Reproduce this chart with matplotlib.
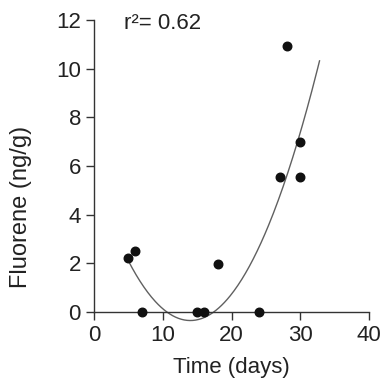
import numpy as np
import matplotlib
matplotlib.use("Agg")
import matplotlib.pyplot as plt

plt.rcParams['font.family'] = ['Liberation Sans', 'DejaVu Sans']

# data
days = [5, 6, 7, 15, 16, 18, 24, 27, 28, 30, 30]
fluorene = [2.23, 2.52, 0, 0, 0, 1.96, 0, 5.54, 10.95, 6.97, 5.54]
# quadratic fit y = a*x^2 + b*x + c, drawn from x=5 to x=32.8
fit_coef = [0.0302, -0.8456, 5.57]
fit_range = [5, 32.8]

fig = plt.figure(figsize=(3.84, 3.87), dpi=100)
ax = fig.add_axes([0.245, 0.156, 0.716, 0.792])

xf = np.linspace(fit_range[0], fit_range[1], 200)
ax.plot(xf, np.polyval(fit_coef, xf), color='#606060', lw=1.0)
ax.scatter(days, fluorene, s=38, color='#111111', zorder=3, clip_on=False)

ax.set_xlim(0, 40)
ax.set_ylim(-0.6, 12)
ax.set_xticks([0, 10, 20, 30, 40])
ax.set_yticks([0, 2, 4, 6, 8, 10, 12])
ax.spines['top'].set_visible(False)
ax.spines['right'].set_visible(False)
ax.spines['bottom'].set_position(('data', 0))
ax.spines['left'].set_bounds(0, 12)
for s in ['left', 'bottom']:
    ax.spines[s].set_color('#333333')
    ax.spines[s].set_linewidth(1.0)
ax.tick_params(length=6, width=1, color='#333333', labelsize=16,
               labelcolor='#222222', direction='out')

ax.set_xlabel('Time (days)', fontsize=16, color='#222222', labelpad=8)
ax.set_ylabel('Fluorene (ng/g)', fontsize=17, color='#222222')
ax.yaxis.set_label_coords(-0.225, 0.39)
ax.text(4.3, 11.85, 'r²= 0.62', fontsize=16, color='#222222', va='center')

fig.savefig('out.png', dpi=100)
